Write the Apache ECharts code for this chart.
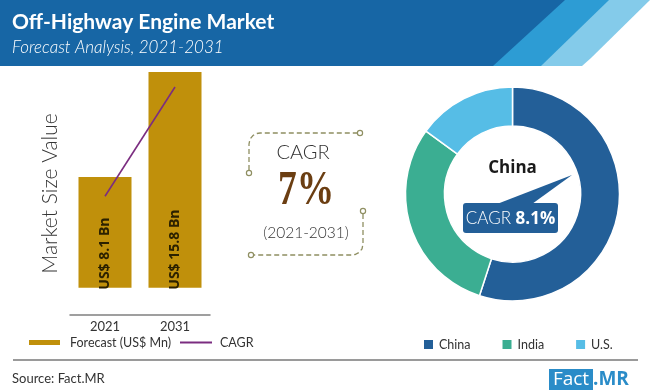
<!DOCTYPE html>
<html><head><meta charset="utf-8">
<script src="https://cdn.jsdelivr.net/npm/echarts@6/dist/echarts.min.js"></script>
<style>html,body{margin:0;padding:0;background:#fff}#c{width:650px;height:392px}</style>
</head><body><div id="c"></div><script>
// ---- data ----
const years = ['2021', '2031'];
const forecast = [8.1, 15.8];
const barLabels = ['US$ 8.1 Bn', 'US$ 15.8 Bn'];
const cagrLine = [6.7, 14.7];
const regions = ['China', 'India', 'U.S.'];
const regionShare = [55, 30, 15];
const regionColors = ['#235f98', '#3bae92', '#56bde6'];

const chart = echarts.init(document.getElementById('c'), null, {renderer: 'canvas'});
const thin = 'Lato';
const dashCol = '#8f8f62';

const option = {
  animation: false,
  backgroundColor: '#fff',
  grid: {left: 70, top: 72, width: 140, height: 243, containLabel: false},
  xAxis: {
    type: 'category', data: years,
    axisLine: {onZero: false, lineStyle: {color: '#808080', width: 1.5}},
    axisTick: {show: false},
    axisLabel: {color: '#333', fontSize: 13, fontFamily: 'Lato', margin: 5}
  },
  yAxis: {
    type: 'value', min: -2, max: 15.8,
    axisLine: {show: false}, axisTick: {show: false}, axisLabel: {show: false}, splitLine: {show: false},
    name: 'Market Size Value', nameLocation: 'middle', nameGap: 9, nameRotate: 90,
    nameTextStyle: {fontFamily: thin, fontWeight: 300, fontSize: 21, color: '#333'}
  },
  legend: [
    {
      left: 29, top: 336, padding: 0, itemWidth: 31, itemHeight: 5,
      data: [{name: 'Forecast (US$ Mn)', icon: 'rect'}],
      textStyle: {fontFamily: 'Lato', fontSize: 12.5, color: '#333', padding: [0, 0, 0, 5]}
    },
    {
      left: 180, top: 336, padding: 0, itemWidth: 32, itemHeight: 2,
      data: [{name: 'CAGR', icon: 'rect'}],
      textStyle: {fontFamily: 'Lato', fontSize: 12.5, color: '#333', padding: [0, 0, 0, 3]}
    },
    {
      left: 422, top: 338, padding: 0, itemWidth: 11, itemHeight: 11, itemGap: 30, icon: 'rect',
      data: regions,
      textStyle: {fontFamily: 'Lato', fontSize: 12.5, color: '#333'}
    }
  ],
  series: [
    {
      name: 'Forecast (US$ Mn)', type: 'bar', data: forecast, barWidth: 53,
      itemStyle: {color: '#c0900b'},
      label: {
        show: true, position: ['50%', '100%'], offset: [-2, 0], rotate: 90, align: 'left', verticalAlign: 'middle',
        fontFamily: 'Open Sans', fontWeight: 'bold', fontSize: 14, color: '#2b2100',
        formatter: p => barLabels[p.dataIndex]
      }
    },
    {
      name: 'CAGR', type: 'line', data: cagrLine, symbol: 'none',
      lineStyle: {color: '#7b2d80', width: 1.6}, itemStyle: {color: '#7b2d80'}, z: 5
    },
    {
      name: 'Region', type: 'pie', center: [512.5, 194], radius: [68, 107], startAngle: 90, clockwise: true,
      label: {show: false}, labelLine: {show: false},
      itemStyle: {borderColor: '#fff', borderWidth: 1.5},
      data: regions.map((r, i) => ({name: r, value: regionShare[i], itemStyle: {color: regionColors[i]}}))
    }
  ],
  graphic: [
    // header stripes
    {type: 'polygon', z: 1, shape: {points: [[600, 0], [650, 0], [591, 58], [582, 66], [530, 66]]}, style: {fill: '#84cbea'}},
    {type: 'polygon', z: 2, shape: {points: [[560, 0], [609, 0], [541, 66], [490, 66]]}, style: {fill: '#2d9cd4'}},
    {type: 'polygon', z: 3, shape: {points: [[0, 0], [565, 0], [493, 66], [0, 66]]}, style: {fill: '#1766a5'}},
    {type: 'text', z: 4, x: 12, y: 22, style: {text: 'Off-Highway Engine Market', fill: '#fff', font: 'bold 21px Lato', verticalAlign: 'middle'}},
    {type: 'text', z: 4, x: 12, y: 48, style: {text: 'Forecast Analysis, 2021-2031', fill: '#fff', font: 'italic 300 17px Lato', verticalAlign: 'middle'}},
    // CAGR box decorations
    {type: 'polyline', shape: {points: [[249, 170], [249, 144], [250, 139], [253, 135.5], [257, 133.5], [260, 133], [357, 133]]}, style: {fill: null, stroke: dashCol, lineWidth: 1.3, lineDash: [5, 3]}},
    {type: 'circle', shape: {cx: 249, cy: 173, r: 2.6}, style: {fill: '#fff', stroke: dashCol, lineWidth: 1.2}},
    {type: 'circle', shape: {cx: 360, cy: 133, r: 2.6}, style: {fill: '#fff', stroke: dashCol, lineWidth: 1.2}},
    {type: 'polyline', shape: {points: [[363, 214], [363, 244], [362, 249], [359, 252.5], [355, 254.5], [352, 255], [254, 255]]}, style: {fill: null, stroke: dashCol, lineWidth: 1.3, lineDash: [5, 3]}},
    {type: 'circle', shape: {cx: 363, cy: 211, r: 2.6}, style: {fill: '#fff', stroke: dashCol, lineWidth: 1.2}},
    {type: 'circle', shape: {cx: 251, cy: 255, r: 2.6}, style: {fill: '#fff', stroke: dashCol, lineWidth: 1.2}},
    {type: 'text', x: 303, y: 153, style: {text: 'CAGR', fill: '#333', font: '300 20px Lato', align: 'center', verticalAlign: 'middle'}},
    {type: 'text', x: 306, y: 192, scaleX: 0.78, style: {text: '7%', fill: '#6b3e12', font: 'bold 48px "Liberation Serif"', align: 'center', verticalAlign: 'middle'}},
    {type: 'text', x: 306, y: 233, style: {text: '(2021-2031)', fill: '#333', font: '300 15.5px Lato', align: 'center', verticalAlign: 'middle'}},
    // donut centre
    {type: 'text', x: 512.5, y: 168, z: 10, style: {text: 'China', fill: '#1a1a1a', font: 'bold 17px "Open Sans"', align: 'center', verticalAlign: 'middle'}},
    {type: 'polygon', z: 10, shape: {points: [[497, 204], [572, 175], [532, 204]]}, style: {fill: '#235f98'}},
    {type: 'rect', z: 10, shape: {x: 463, y: 203, width: 95, height: 30, r: 3}, style: {fill: '#235f98'}},
    {type: 'text', z: 11, x: 510.5, y: 219, style: {
      text: '{a|CAGR }{b|8.1%}', align: 'center', verticalAlign: 'middle',
      rich: {a: {fill: '#fff', font: '300 17px Lato'}, b: {fill: '#fff', font: 'bold 17px "Open Sans"'}}
    }},
    // footer
    {type: 'line', shape: {x1: 13, y1: 360, x2: 638, y2: 360}, style: {stroke: '#9a9a9a', lineWidth: 2}},
    {type: 'text', x: 12, y: 379, style: {text: 'Source: Fact.MR', fill: '#333', font: '13px Lato', verticalAlign: 'middle'}},
    {type: 'rect', shape: {x: 549, y: 369, width: 44, height: 21}, style: {fill: '#2a8cc8'}},
    {type: 'text', x: 571, y: 380, style: {text: 'Fact', fill: '#fff', font: '19px "Open Sans"', align: 'center', verticalAlign: 'middle'}},
    {type: 'text', x: 593, y: 380, style: {text: '.MR', fill: '#2a8cc8', font: 'bold 19px "Open Sans"', align: 'left', verticalAlign: 'middle'}}
  ]
};
chart.setOption(option);
</script></body></html>
